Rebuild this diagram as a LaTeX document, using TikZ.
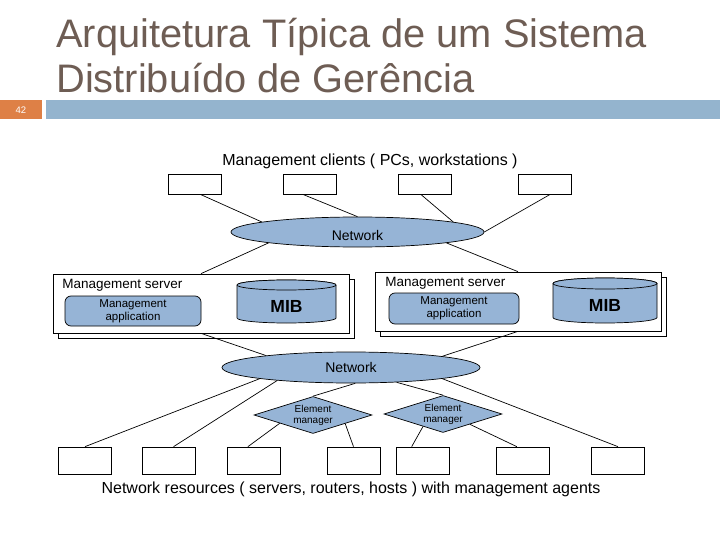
\documentclass[tikz,border=0pt]{standalone}
\usepackage{fontspec}
\setmainfont{Liberation Sans}
\usetikzlibrary{shapes.geometric,shadows}
\definecolor{nodeblue}{RGB}{150,180,214}
\definecolor{barblue}{RGB}{148,180,206}
\definecolor{numorange}{RGB}{222,128,70}
\definecolor{titlebrown}{RGB}{110,93,84}

\begin{document}
\begin{tikzpicture}[x=1pt,y=-1pt,line width=0.7pt,
	titletxt/.style={anchor=base west,inner sep=0pt,text=titlebrown,font=\fontsize{39.8}{45}\selectfont},
	caption/.style={anchor=base,inner sep=0pt,font=\fontsize{16}{18}\selectfont},
	pcbox/.style={draw,fill=white,minimum width=53pt,minimum height=20pt,inner sep=0pt},
	resbox/.style={draw,fill=white,minimum width=53pt,minimum height=27pt,inner sep=0pt},
	netcloud/.style={ellipse,draw,fill=nodeblue,inner sep=0pt,font=\fontsize{14}{16}\selectfont},
	server/.style={draw,fill=white,minimum height=59pt,inner sep=0pt,copy shadow={shadow xshift=5pt,shadow yshift=-5pt}},
	srvlabel/.style={anchor=base west,inner sep=0pt,font=\fontsize{13.5}{15}\selectfont},
	appbox/.style={draw,fill=nodeblue,rounded corners=6pt,inner sep=0pt,align=center,font=\fontsize{11.5}{13}\selectfont},
	mib/.style={inner sep=0pt,font=\fontsize{17.5}{20}\selectfont\bfseries},
	elmgr/.style={diamond,aspect=3.3,draw,fill=nodeblue,inner sep=0pt,minimum width=118pt,minimum height=37pt,align=center,font=\fontsize{10}{11}\selectfont}]
	\useasboundingbox (0,0) rectangle (720,540);
	
	% Draw header bar and title
	\fill[numorange] (0,100) rectangle (42,119);
	\fill[barblue] (46,100) rectangle (720,119);
	\node[text=white,inner sep=0pt,font=\fontsize{9.5}{10}\selectfont] (num) at (21,110) {42};
	\node[titletxt] (title1) at (56,48) {Arquitetura Típica de um Sistema};
	\node[titletxt] (title2) at (56,93) {Distribuído de Gerência};
	
	% Draw management clients
	\node[caption] (clients) at (370,166) {Management clients ( PCs, workstations )};
	\node[pcbox] (c1) at (195,184) {};
	\node[pcbox] (c2) at (309.5,184) {};
	\node[pcbox] (c3) at (424.5,184) {};
	\node[pcbox] (c4) at (544.5,184) {};
	
	% Draw upper network
	\node[netcloud,minimum width=253pt,minimum height=30pt] (netT) at (357.5,232) {\raisebox{-3pt}[\height][\depth]{Network}};
	\draw (c1.297) -- (netT.174) (c2.237) -- (netT.north) (c3.250) -- (netT.6) (c4.299) -- (netT.east);
	
	% Draw management servers
	\node[server,minimum width=296pt] (srvL) at (201,303.5) {};
	\node[srvlabel] (srvLt) at (62,288.5) {Management server};
	\node[appbox,minimum width=136pt,minimum height=30pt] (appL) at (133,311) {Management\\application};
	\draw[fill=nodeblue] (237,285) -- (237,318) arc(180:360:49.5pt and 5pt) -- (336,285) arc(0:180:49.5pt and 5pt) -- cycle;
	\draw[fill=nodeblue] (286.5,285) ellipse (49.5pt and 5pt);
	\node[mib] (mibL) at (286.5,306.5) {MIB};
	
	\node[server,minimum width=286pt] (srvR) at (518,301.5) {};
	\node[srvlabel] (srvRt) at (385,286.5) {Management server};
	\node[appbox,minimum width=130pt,minimum height=31pt] (appR) at (454,308.5) {Management\\application};
	\draw[fill=nodeblue] (553,283.5) -- (553,317.5) arc(180:360:52pt and 5.5pt) -- (657,283.5) arc(0:180:52pt and 5.5pt) -- cycle;
	\draw[fill=nodeblue] (605,283.5) ellipse (52pt and 5.5pt);
	\node[mib] (mibR) at (605,305.5) {MIB};
	
	\draw (netT.187) -- (srvL.north) (netT.353) -- (srvR.north);
	
	% Draw lower network and element managers
	\node[netcloud,minimum width=258pt,minimum height=31pt] (netB) at (351,367.5) {Network};
	\node[elmgr] (dL) at (313,415) {Element\\manager};
	\node[elmgr] (dR) at (443,414) {Element\\manager};
	\draw (srvL.south) -- (netB.172) (srvR.south) -- (netB.7);
	
	% Draw network resources
	\node[resbox] (r1) at (85,460.5) {};
	\node[resbox] (r2) at (168.5,460.5) {};
	\node[resbox] (r3) at (253.5,460.5) {};
	\node[resbox] (r4) at (353.5,460.5) {};
	\node[resbox] (r5) at (422.5,460.5) {};
	\node[resbox] (r6) at (523,460.5) {};
	\node[resbox] (r7) at (618,460.5) {};
	\node[caption] (agents) at (351,493) {Network resources ( servers, routers, hosts ) with management agents};
	
	% Draw links to resources
	\draw (netB.187) -- (r1.north) (netB.190) -- (r2.70) (netB.285) -- (dL.north) (netB.342) -- (dR.north) (netB.353.5) -- (r7.north);
	\draw (dL.194) -- (r3.112) (dL.345) -- (r4.north) (dR.212) -- (r5.128) (dR.339) -- (r6.114);
\end{tikzpicture}
\end{document}
